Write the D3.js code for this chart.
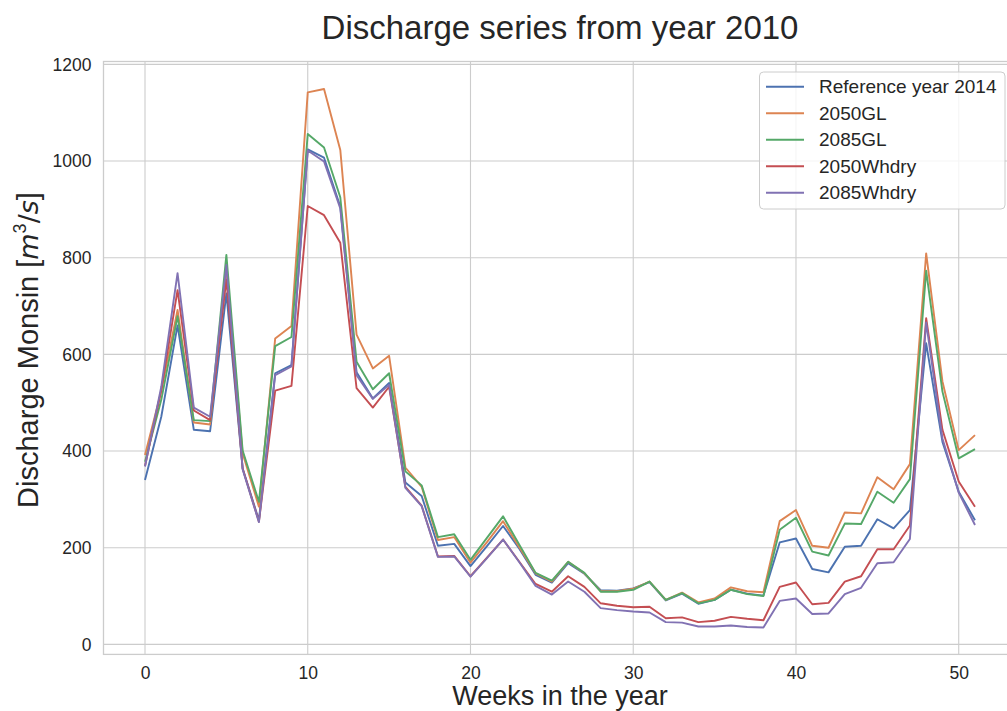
<!DOCTYPE html>
<html>
<head>
<meta charset="utf-8">
<script src="https://cdn.jsdelivr.net/npm/d3@7"></script>
<style>
  html, body { margin: 0; padding: 0; background: #ffffff; }
  svg { display: block; }
  text { font-family: "Liberation Sans", Arial, sans-serif; fill: #262626; }
</style>
</head>
<body>
<svg id="chart" width="1007" height="711"></svg>
<script>
// Weeks of the year (0..51)
const weeks = d3.range(0, 52);

const seriesNames = ["Reference year 2014", "2050GL", "2085GL", "2050Whdry", "2085Whdry"];

// Weekly discharge [m3/s]
const reference2014 = [340, 471, 660, 444, 441, 726, 364, 257, 561, 578,
  1024, 1007, 906, 563, 509, 541, 335, 307, 204, 208,
  162, 203, 245, 198, 144, 128, 168, 146, 112, 111,
  116, 129, 91, 105, 84, 92, 113, 105, 101, 211,
  219, 156, 149, 202, 204, 259, 240, 278, 623, 419,
  316, 257];
const gl2050 = [392, 524, 692, 459, 455, 780, 395, 285, 633, 659,
  1142, 1149, 1023, 641, 571, 597, 366, 326, 216, 222,
  169, 211, 255, 201, 147, 130, 171, 147, 110, 110,
  115, 130, 92, 107, 87, 95, 118, 110, 108, 255,
  278, 204, 200, 273, 271, 346, 321, 373, 809, 544,
  402, 433];
const gl2085 = [378, 506, 679, 464, 462, 806, 401, 295, 617, 636,
  1056, 1028, 925, 585, 528, 561, 358, 329, 222, 228,
  175, 220, 265, 206, 148, 132, 171, 148, 109, 109,
  113, 130, 92, 106, 85, 92, 113, 104, 100, 237,
  262, 192, 184, 250, 249, 316, 293, 342, 773, 523,
  385, 404];
const whdry2050 = [369, 526, 733, 484, 464, 755, 364, 254, 525, 535,
  907, 888, 831, 530, 490, 533, 326, 287, 182, 183,
  141, 179, 217, 171, 125, 109, 141, 119, 85, 80,
  77, 78, 54, 56, 46, 49, 57, 53, 50, 119,
  128, 83, 86, 130, 141, 197, 197, 246, 675, 444,
  337, 285];
const whdry2085 = [368, 533, 768, 490, 471, 785, 362, 253, 557, 575,
  1022, 999, 902, 557, 508, 537, 324, 286, 181, 182,
  140, 178, 217, 170, 121, 103, 130, 109, 75, 71,
  68, 66, 46, 45, 37, 37, 39, 36, 35, 90,
  95, 63, 64, 104, 117, 168, 170, 218, 666, 426,
  314, 247];

const xTicks = [0, 10, 20, 30, 40, 50];
const yTicks = [0, 200, 400, 600, 800, 1000, 1200];

const colors = ["#4C72B0", "#DD8452", "#55A868", "#C44E52", "#8172B3"];
const allSeries = [reference2014, gl2050, gl2085, whdry2050, whdry2085];

const svg = d3.select("#chart");

// Axes box (the right part runs past the visible canvas)
const plotL = 103.5, plotR = 1016.5, plotT = 61.5, plotB = 654.4;

const x = d3.scaleLinear().domain([-2.55, 53.55]).range([plotL, plotR]);
const y = d3.scaleLinear().domain([-20.7, 1206]).range([plotB, plotT]);

// Grid
const grid = svg.append("g");
grid.selectAll("line.gx").data(xTicks).join("line")
  .attr("class", "gx")
  .attr("x1", d => x(d)).attr("x2", d => x(d))
  .attr("y1", plotT).attr("y2", plotB)
  .attr("stroke", "#cccccc").attr("stroke-width", 1.1);
grid.selectAll("line.gy").data(yTicks).join("line")
  .attr("class", "gy")
  .attr("x1", plotL).attr("x2", plotR)
  .attr("y1", d => y(d)).attr("y2", d => y(d))
  .attr("stroke", "#cccccc").attr("stroke-width", 1.1);

// Frame
svg.append("rect")
  .attr("x", plotL).attr("y", plotT)
  .attr("width", plotR - plotL).attr("height", plotB - plotT)
  .attr("fill", "none").attr("stroke", "#cccccc").attr("stroke-width", 1.3);

// Axes tick labels (no tick marks)
const xAxis = d3.axisBottom(x).tickValues(xTicks).tickSize(0).tickPadding(12)
  .tickFormat(d3.format("d"));
const gx = svg.append("g").attr("transform", `translate(0,${plotB})`).call(xAxis);
gx.select(".domain").remove();
gx.selectAll("text").attr("font-size", 17.5).style("fill", "#262626")
  .attr("font-family", "Liberation Sans, Arial, sans-serif");

const yAxis = d3.axisLeft(y).tickValues(yTicks).tickSize(0).tickPadding(12)
  .tickFormat(d3.format("d"));
const gy = svg.append("g").attr("transform", `translate(${plotL},0)`).call(yAxis);
gy.select(".domain").remove();
gy.selectAll("text").attr("font-size", 17.5).style("fill", "#262626")
  .attr("font-family", "Liberation Sans, Arial, sans-serif");

// Series lines
const line = d3.line().x((d, i) => x(weeks[i])).y(d => y(d));
svg.append("g").selectAll("path").data(allSeries).join("path")
  .attr("d", d => line(d))
  .attr("fill", "none")
  .attr("stroke", (d, i) => colors[i])
  .attr("stroke-width", 1.9)
  .attr("stroke-linejoin", "round");

// Title and axis labels
svg.append("text")
  .attr("x", (plotL + plotR) / 2).attr("y", 39)
  .attr("text-anchor", "middle").attr("font-size", 33)
  .text("Discharge series from year 2010");

svg.append("text")
  .attr("x", (plotL + plotR) / 2).attr("y", 705)
  .attr("text-anchor", "middle").attr("font-size", 27)
  .text("Weeks in the year");

const ylab = svg.append("text")
  .attr("transform", `translate(38,350) rotate(-90)`)
  .attr("text-anchor", "middle").attr("font-size", 29);
ylab.append("tspan").text("Discharge Monsin [");
ylab.append("tspan").attr("font-style", "italic").attr("font-family", "DejaVu Sans").attr("font-size", 27).text("m");
ylab.append("tspan").attr("font-size", 18).attr("dy", -12).text("3");
ylab.append("tspan").attr("dy", 12).attr("font-family", "DejaVu Sans").attr("font-size", 27).text("/");
ylab.append("tspan").attr("font-style", "italic").attr("font-family", "DejaVu Sans").attr("font-size", 27).text("s");
ylab.append("tspan").text("]");

// Legend
const lg = svg.append("g");
lg.append("rect")
  .attr("x", 759.5).attr("y", 72).attr("width", 245.5).attr("height", 137)
  .attr("rx", 4).attr("ry", 4)
  .attr("fill", "#ffffff").attr("fill-opacity", 0.8)
  .attr("stroke", "#cccccc").attr("stroke-width", 1);
const rowH = 26.5;
const items = lg.selectAll("g.item").data(seriesNames).join("g")
  .attr("class", "item")
  .attr("transform", (d, i) => `translate(0,${86.7 + i * rowH})`);
items.append("line")
  .attr("x1", 766).attr("x2", 804).attr("y1", 0).attr("y2", 0)
  .attr("stroke", (d, i) => colors[i]).attr("stroke-width", 1.9);
items.append("text")
  .attr("x", 819).attr("y", 0).attr("dy", "0.35em")
  .attr("font-size", 19)
  .text(d => d);
</script>
</body>
</html>
